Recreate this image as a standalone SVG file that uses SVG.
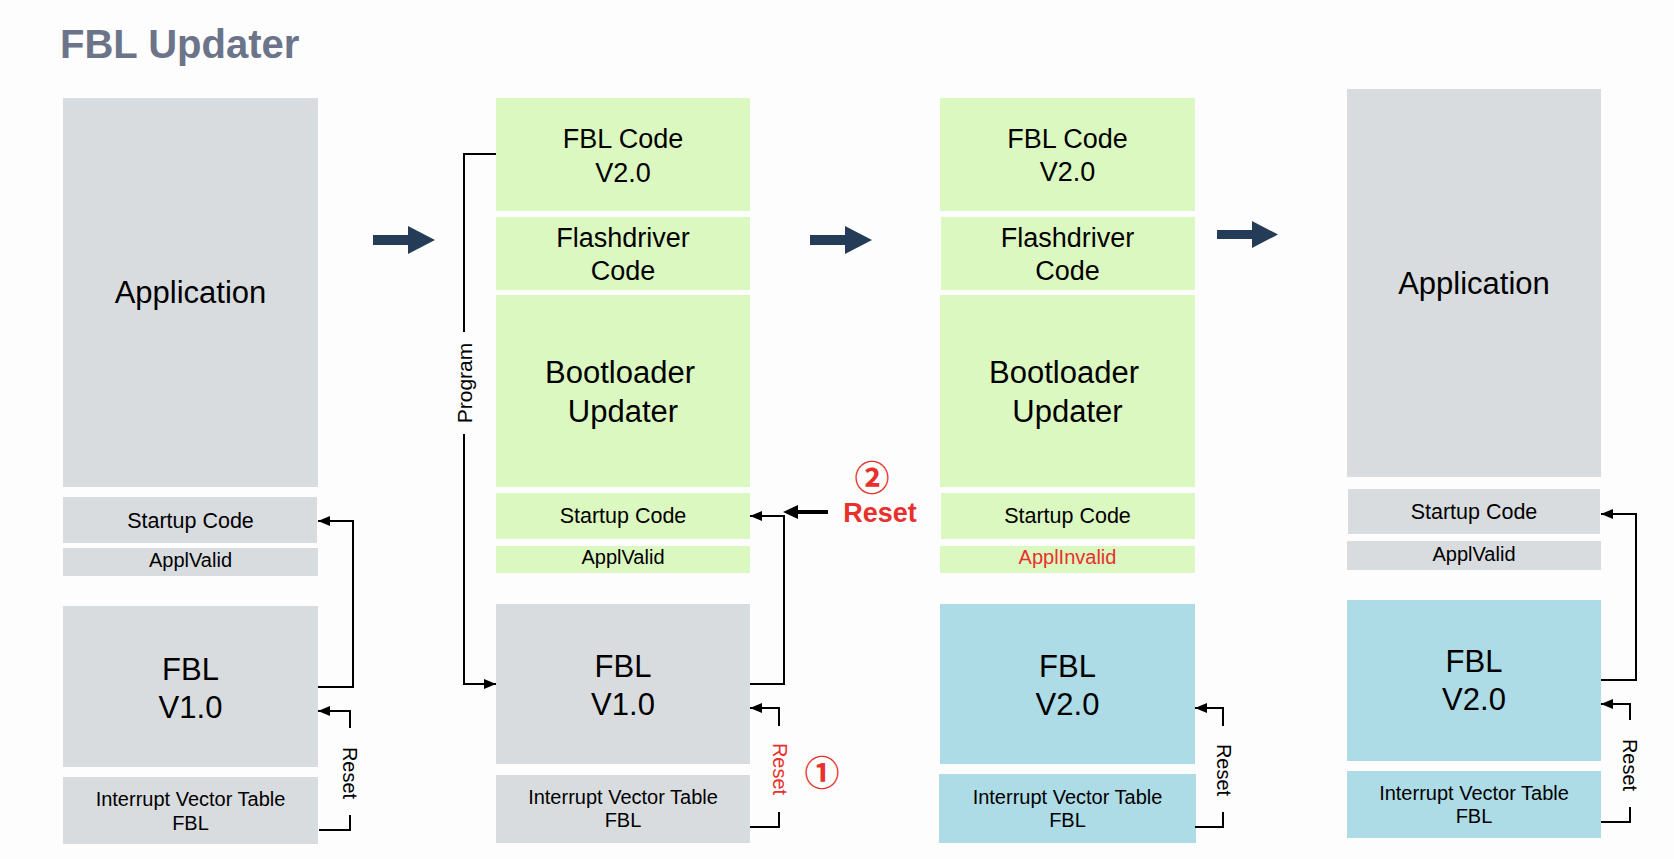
<svg xmlns="http://www.w3.org/2000/svg" width="1674" height="859" viewBox="0 0 1674 859">
<style>
text{font-family:"Liberation Sans",Arial,sans-serif;fill:#000;text-anchor:middle}
.g{fill:#d9dcdf}.gr{fill:#dcf8c1}.b{fill:#addbe6}
.big{font-size:31px}.mid{font-size:27px}.st{font-size:21.5px}.sm{font-size:20px}
.red{fill:#e8302c}
.ln{fill:none;stroke:#000;stroke-width:2}
.rot{font-size:20px;dominant-baseline:central}
.fat{fill:#243c57}
.circ{font-family:"Noto Sans CJK SC","DejaVu Sans",sans-serif;font-size:35px;font-weight:bold;fill:#e8302c;dominant-baseline:central}
</style>
<defs>
<marker id="ah" markerUnits="userSpaceOnUse" markerWidth="12" markerHeight="10" refX="12" refY="5" orient="auto">
<path d="M0,0 L12,5 L0,10 z" fill="#000"/>
</marker>
</defs>
<rect width="1674" height="859" fill="#fdfdfd"/>
<text x="60" y="58" style="font-size:40px;font-weight:bold;fill:#6b7489;text-anchor:start">FBL Updater</text>

<g id="col1">
<g id="c1-app"><rect class="g" x="63" y="98" width="255" height="389"/><text class="big" x="190.5" y="303">Application</text></g>
<g id="c1-startup"><rect class="g" x="63" y="497" width="254" height="46"/><text class="st" x="190.5" y="528">Startup Code</text></g>
<g id="c1-valid"><rect class="g" x="63" y="548" width="255" height="28"/><text class="sm" x="190.5" y="567">ApplValid</text></g>
<g id="c1-fbl"><rect class="g" x="63" y="606" width="255" height="161"/><text class="big" x="190.5" y="680">FBL</text><text class="big" x="190.5" y="718">V1.0</text></g>
<g id="c1-ivt"><rect class="g" x="63" y="777" width="255" height="67"/><text class="sm" x="190.5" y="806">Interrupt Vector Table</text><text class="sm" x="190.5" y="830">FBL</text></g>
</g>

<g id="col2">
<g id="c2-fblcode"><rect class="gr" x="496" y="98" width="254" height="113"/><text class="mid" x="623" y="148">FBL Code</text><text class="mid" x="623" y="182">V2.0</text></g>
<g id="c2-flash"><rect class="gr" x="496" y="217" width="254" height="73"/><text class="mid" x="623" y="247">Flashdriver</text><text class="mid" x="623" y="280">Code</text></g>
<g id="c2-boot"><rect class="gr" x="496" y="295" width="254" height="192"/><text class="big" x="620" y="383">Bootloader</text><text class="big" x="623" y="422">Updater</text></g>
<g id="c2-startup"><rect class="gr" x="496" y="493" width="254" height="46"/><text class="st" x="623" y="523">Startup Code</text></g>
<g id="c2-valid"><rect class="gr" x="496" y="546" width="254" height="27"/><text class="sm" x="623" y="564">ApplValid</text></g>
<g id="c2-fbl"><rect class="g" x="496" y="604" width="254" height="160"/><text class="big" x="623" y="677">FBL</text><text class="big" x="623" y="715">V1.0</text></g>
<g id="c2-ivt"><rect class="g" x="496" y="775" width="254" height="68"/><text class="sm" x="623" y="804">Interrupt Vector Table</text><text class="sm" x="623" y="827">FBL</text></g>
</g>

<g id="col3">
<g id="c3-fblcode"><rect class="gr" x="940" y="98" width="255" height="113"/><text class="mid" x="1067.5" y="148">FBL Code</text><text class="mid" x="1067.5" y="181">V2.0</text></g>
<g id="c3-flash"><rect class="gr" x="941" y="217" width="254" height="73"/><text class="mid" x="1067.5" y="247">Flashdriver</text><text class="mid" x="1067.5" y="280">Code</text></g>
<g id="c3-boot"><rect class="gr" x="940" y="295" width="255" height="192"/><text class="big" x="1064" y="383">Bootloader</text><text class="big" x="1067.5" y="422">Updater</text></g>
<g id="c3-startup"><rect class="gr" x="941" y="493" width="254" height="46"/><text class="st" x="1067.5" y="523">Startup Code</text></g>
<g id="c3-invalid"><rect class="gr" x="940" y="546" width="255" height="27"/><text class="sm red" x="1067.5" y="564">ApplInvalid</text></g>
<g id="c3-fbl"><rect class="b" x="940" y="604" width="255" height="160"/><text class="big" x="1067.5" y="677">FBL</text><text class="big" x="1067.5" y="715">V2.0</text></g>
<g id="c3-ivt"><rect class="b" x="939" y="774" width="257" height="69"/><text class="sm" x="1067.5" y="804">Interrupt Vector Table</text><text class="sm" x="1067.5" y="827">FBL</text></g>
</g>

<g id="col4">
<g id="c4-app"><rect class="g" x="1347" y="89" width="254" height="388"/><text class="big" x="1474" y="294">Application</text></g>
<g id="c4-startup"><rect class="g" x="1348" y="489" width="252" height="45"/><text class="st" x="1474" y="519">Startup Code</text></g>
<g id="c4-valid"><rect class="g" x="1347" y="541" width="254" height="29"/><text class="sm" x="1474" y="561">ApplValid</text></g>
<g id="c4-fbl"><rect class="b" x="1347" y="600" width="254" height="161"/><text class="big" x="1474" y="672">FBL</text><text class="big" x="1474" y="710">V2.0</text></g>
<g id="c4-ivt"><rect class="b" x="1347" y="771" width="254" height="67"/><text class="sm" x="1474" y="800">Interrupt Vector Table</text><text class="sm" x="1474" y="823">FBL</text></g>
</g>

<g id="connectors">
<path class="fat" d="M373,235 H408 V226 L435,240 L408,254 V245 H373 Z"/>
<path class="fat" d="M810,235 H845 V226 L872,240 L845,254 V245 H810 Z"/>
<path class="fat" d="M1217,230 H1252 V221 L1278,234.5 L1252,248 V239 H1217 Z"/>

<path class="ln" d="M318,687 H353 V521 H318" marker-end="url(#ah)"/>
<path class="ln" d="M319,830 H350 V815"/>
<path class="ln" d="M350,728 V711 H318" marker-end="url(#ah)"/>
<text class="rot" transform="translate(350,773) rotate(90)">Reset</text>

<path class="ln" d="M496,154 H464 V332"/>
<path class="ln" d="M464,434 V684 H496" marker-end="url(#ah)"/>
<text class="rot" style="font-size:21px" transform="translate(464,383) rotate(-90)">Program</text>

<path class="ln" d="M750,684 H784 V516 H750" marker-end="url(#ah)"/>
<path class="ln" d="M750,827 H779 V812"/>
<path class="ln" d="M779,726 V708 H750" marker-end="url(#ah)"/>
<text class="rot red" transform="translate(780,769) rotate(90)">Reset</text>
<text class="circ" x="822" y="770">①</text>

<path d="M828,510 H798 V505 L783,512 L798,519 V514 H828 Z" fill="#000"/>
<text class="circ" x="872" y="475">②</text>
<text x="880" y="522" style="font-size:27px;font-weight:bold;fill:#e8302c">Reset</text>

<path class="ln" d="M1195,827 H1223 V812"/>
<path class="ln" d="M1223,726 V708 H1195" marker-end="url(#ah)"/>
<text class="rot" transform="translate(1224,770) rotate(90)">Reset</text>

<path class="ln" d="M1601,680 H1636 V514 H1601" marker-end="url(#ah)"/>
<path class="ln" d="M1601,822 H1630 V807"/>
<path class="ln" d="M1630,720 V704 H1601" marker-end="url(#ah)"/>
<text class="rot" transform="translate(1630,765) rotate(90)">Reset</text>
</g>
</svg>
